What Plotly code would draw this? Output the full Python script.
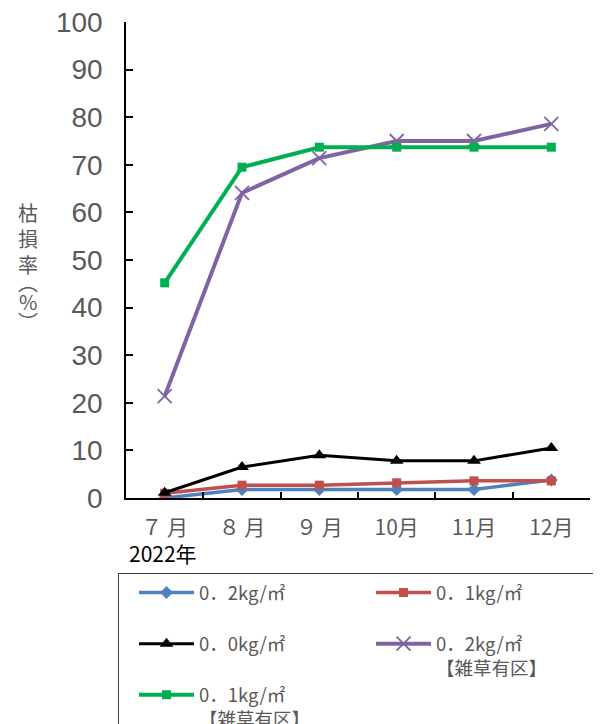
import plotly.graph_objects as go

months = ["７ 月", "８ 月", "９ 月", "10月", "11月", "12月"]
s_blue = [0.0, 1.8, 1.8, 1.8, 1.8, 3.8]
s_red = [1.0, 2.7, 2.7, 3.2, 3.6, 3.6]
s_black = [1.1, 6.5, 9.0, 7.8, 7.8, 10.5]
s_purple = [21.4, 64.1, 71.4, 75.0, 75.0, 78.6]
s_green = [45.2, 69.5, 73.7, 73.7, 73.7, 73.7]

names = ["0．2kg/㎡<br>\u3000", "0．1kg/㎡<br>\u3000", "0．0kg/㎡<br>\u3000",
         "0．2kg/㎡<br>【雑草有区】", "0．1kg/㎡<br>【雑草有区】"]

CJK = "Noto Sans CJK JP"
GRAY = "#595959"
# page body has an 8px margin: figure coordinates = page pixels - 8
W, H = 593, 716
L, T, PW, PH = 118, 14, 464, 476

fig = go.Figure()
fig.add_trace(go.Scatter(x=months, y=s_blue, name=names[0], mode="lines+markers",
                         line=dict(color="#4f81bd", width=3.5),
                         marker=dict(symbol="diamond", size=10, color="#4f81bd")))
fig.add_trace(go.Scatter(x=months, y=s_red, name=names[1], mode="lines+markers",
                         line=dict(color="#c0504d", width=3.5),
                         marker=dict(symbol="square", size=9, color="#c0504d")))
fig.add_trace(go.Scatter(x=months, y=s_black, name=names[2], mode="lines+markers",
                         line=dict(color="#000000", width=3),
                         marker=dict(symbol="triangle-up", size=12, color="#000000")))
fig.add_trace(go.Scatter(x=months, y=s_purple, name=names[3], mode="lines+markers",
                         line=dict(color="#8064a2", width=4),
                         marker=dict(symbol="x-thin", size=14, color="#8064a2",
                                     line=dict(width=1.8, color="#8064a2"))))
fig.add_trace(go.Scatter(x=months, y=s_green, name=names[4], mode="lines+markers",
                         line=dict(color="#00b050", width=4),
                         marker=dict(symbol="square", size=9, color="#00b050")))

def px_x(px):
    return (px - 8 - L) / PW

def px_y(py):
    return (T + PH - (py - 8)) / PH

fig.update_layout(
    width=W, height=H,
    margin=dict(l=L, r=W - L - PW, t=T, b=H - T - PH, autoexpand=False),
    plot_bgcolor="white", paper_bgcolor="white",
    font=dict(family=CJK, color=GRAY),
    showlegend=True,
    legend=dict(
        orientation="h", x=px_x(118), xanchor="left", y=px_y(573), yanchor="top",
        bordercolor="#404040", borderwidth=1, bgcolor="white",
        font=dict(family=CJK, size=18.5, color=GRAY),
        entrywidth=152, entrywidthmode="pixels", valign="top",
        itemwidth=55, indentation=15, traceorder="normal",
    ),
    xaxis=dict(
        type="category", range=[-0.5, 5.5], showgrid=False,
        showline=True, linecolor="black", linewidth=1.5,
        ticks="inside", tickson="boundaries", ticklen=6, tickcolor="black", tickwidth=1.5,
        tickfont=dict(family=CJK, size=21, color=GRAY),
        ticklabelstandoff=10,
    ),
    yaxis=dict(
        range=[0, 100], dtick=10, showgrid=False, zeroline=False,
        showline=True, linecolor="black", linewidth=1.5,
        ticks="inside", ticklen=7, tickcolor="black", tickwidth=1.5,
        tickfont=dict(family="Liberation Sans", size=28, color=GRAY),
        ticklabelstandoff=16, ticklabeloverflow="allow",
    ),
)

fig.add_annotation(text="2022年", xref="paper", yref="paper", x=px_x(127), y=px_y(553),
                   xanchor="left", yanchor="middle", showarrow=False,
                   font=dict(family=CJK, size=21, color="black"))

ychars = ["枯", "損", "率", "︵", "%", "︶"]
ypix = [212, 238, 264, 282, 301, 321]
for ch, yp in zip(ychars, ypix):
    fig.add_annotation(text=ch, xref="paper", yref="paper",
                       x=px_x(28), y=px_y(yp),
                       xanchor="center", yanchor="middle", showarrow=False,
                       font=dict(family=CJK, size=20, color=GRAY))

fig.write_html("out.html")
